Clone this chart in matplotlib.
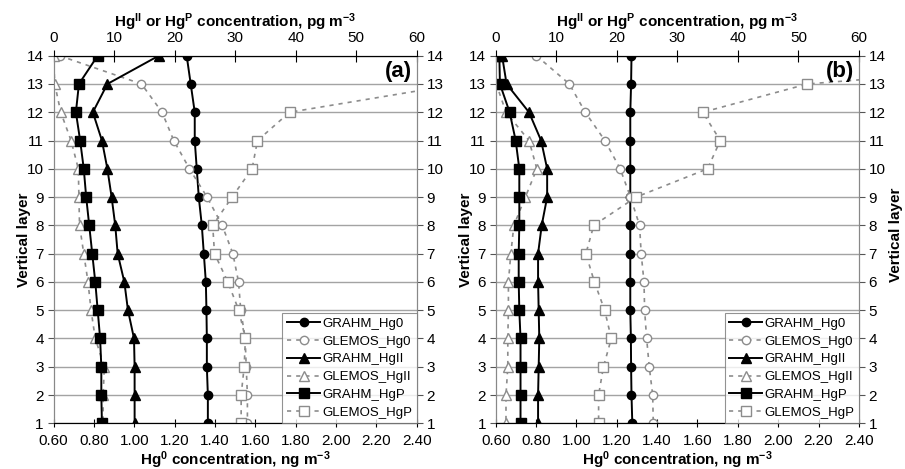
import matplotlib.pyplot as plt
import numpy as np

plt.rcParams['font.family'] = ['Liberation Sans', 'DejaVu Sans']
plt.rcParams['mathtext.fontset'] = 'custom'
plt.rcParams['mathtext.rm'] = 'Liberation Sans:bold'
plt.rcParams['mathtext.default'] = 'rm'

# Camadas verticais
layers = np.arange(14, 0, -1)

# Painel (a) - Hg0 em ng m-3 (eixo inferior)
a_grahm_hg0 = [1.26, 1.28, 1.30, 1.30, 1.31, 1.32, 1.335, 1.345, 1.355, 1.358, 1.36, 1.36, 1.365, 1.365]
a_glemos_hg0 = [0.63, 1.036, 1.138, 1.196, 1.274, 1.361, 1.436, 1.489, 1.517, 1.528, 1.55, 1.555, 1.561, 1.561]
# HgII e HgP em pg m-3 (eixo superior)
a_grahm_hg2 = [17.4, 8.9, 6.5, 8.0, 8.9, 9.6, 10.2, 10.6, 11.7, 12.3, 13.3, 13.4, 13.4, 13.4]
a_glemos_hg2 = [0.0, 0.2, 1.2, 2.9, 4.1, 4.2, 4.3, 5.0, 5.7, 6.2, 6.9, 8.4, 8.2, 8.2]
a_grahm_hgp = [7.3, 4.2, 3.7, 4.4, 5.0, 5.4, 5.9, 6.4, 6.9, 7.3, 7.7, 7.9, 7.9, 8.0]
a_glemos_hgp = [75.0, 67.0, 39.0, 33.7, 32.8, 29.5, 26.3, 26.6, 28.8, 30.6, 31.7, 31.5, 31.0, 31.0]

# Painel (b)
b_grahm_hg0 = [1.273, 1.271, 1.267, 1.267, 1.267, 1.267, 1.267, 1.267, 1.267, 1.267, 1.27, 1.271, 1.273, 1.277]
b_glemos_hg0 = [0.802, 0.965, 1.044, 1.141, 1.217, 1.268, 1.313, 1.321, 1.335, 1.338, 1.348, 1.361, 1.378, 1.381]
b_grahm_hg2 = [1.05, 1.8, 5.5, 7.5, 8.5, 8.5, 7.6, 7.0, 7.0, 7.1, 7.2, 7.1, 7.0, 7.0]
b_glemos_hg2 = [0.0, 0.1, 1.7, 5.5, 6.8, 4.9, 3.0, 2.5, 2.1, 2.1, 2.0, 2.0, 1.7, 1.7]
b_grahm_hgp = [0.6, 0.7, 2.3, 3.3, 3.9, 3.9, 3.9, 3.8, 3.8, 3.9, 4.1, 4.1, 4.1, 4.1]
b_glemos_hgp = [110.0, 51.5, 34.2, 37.1, 35.0, 23.2, 16.2, 14.9, 16.3, 18.0, 19.1, 17.8, 17.0, 17.0]

panels = [
    ('(a)', a_grahm_hg0, a_glemos_hg0, a_grahm_hg2, a_glemos_hg2, a_grahm_hgp, a_glemos_hgp),
    ('(b)', b_grahm_hg0, b_glemos_hg0, b_grahm_hg2, b_glemos_hg2, b_grahm_hgp, b_glemos_hgp),
]

bottom_ticks = np.arange(0.6, 2.41, 0.2)
top_ticks = np.arange(0, 61, 10)

GRAY = '#8c8c8c'
solid = dict(color='black', lw=1.4)
dashed = dict(color=GRAY, lw=1.2, ls=(0, (2.5, 3)), markerfacecolor='white', markeredgecolor=GRAY)

fig = plt.figure(figsize=(9.05, 4.69), dpi=100)
lefts = [53.5 / 905, 495.7 / 905]

for left, (tag, g0, l0, g2, l2, gp, lp) in zip(lefts, panels):
    ax = fig.add_axes([left, 1 - 423.3 / 469, 363.2 / 905, 367.6 / 469])
    ax2 = ax.twiny()

    h1, = ax.plot(g0, layers, marker='o', ms=6, label='GRAHM_Hg0', **solid)
    h2, = ax.plot(l0, layers, marker='o', ms=6, label='GLEMOS_Hg0', **dashed)
    h3, = ax2.plot(g2, layers, marker='^', ms=6.5, label='GRAHM_HgII', **solid)
    h4, = ax2.plot(l2, layers, marker='^', ms=6.5, label='GLEMOS_HgII', **dashed)
    h5, = ax2.plot(gp, layers, marker='s', ms=6.5, label='GRAHM_HgP', **solid)
    h6, = ax2.plot(lp, layers, marker='s', ms=7, label='GLEMOS_HgP', **dashed)

    ax.set_xlim(0.6, 2.4)
    ax2.set_xlim(0, 60)
    ax.set_ylim(1, 14)
    ax.set_yticks(range(1, 15))
    ax.set_xticks(bottom_ticks)
    ax.set_xticklabels(['%.2f' % t for t in bottom_ticks])
    ax2.set_xticks(top_ticks)

    ax.yaxis.grid(True, color='#a3a3a3', lw=1.0)
    ax.set_axisbelow(True)
    ax.tick_params(axis='y', which='both', left=True, right=True, labelright=True,
                   direction='out', length=4, labelsize=11, pad=3, color='#555555')
    ax.tick_params(axis='x', direction='inout', length=6, labelsize=11, pad=5)
    ax2.tick_params(axis='x', direction='inout', length=9, labelsize=11, pad=3)

    for s in ['left', 'right']:
        ax.spines[s].set_color('#888888')
        ax2.spines[s].set_color('#888888')
    ax.spines['bottom'].set_color('#333333')
    ax2.spines['top'].set_color('black')

    ax.set_xlabel(r'Hg$^{0}$ concentration, ng m$^{-3}$', fontweight='bold', fontsize=11, labelpad=0.5)
    ax2.set_xlabel(r'Hg$^{II}$ or Hg$^{P}$ concentration, pg m$^{-3}$', fontweight='bold', fontsize=11, labelpad=3)
    ax.set_ylabel('Vertical layer', fontweight='bold', fontsize=11, labelpad=-3)

    ax2.text(0.988, 0.985, tag, transform=ax2.transAxes, ha='right', va='top',
             fontsize=16, fontweight='bold')

    leg = ax2.legend(handles=[h1, h2, h3, h4, h5, h6], loc='lower right', fontsize=9.5,
                     frameon=True, fancybox=False, borderpad=0.35, labelspacing=0.42,
                     handlelength=2.5, handletextpad=0.15, borderaxespad=0.0)
    leg.get_frame().set_edgecolor('#777777')
    leg.get_frame().set_linewidth(0.8)

fig.text(896 / 905, 0.5, 'Vertical layer', rotation=90, ha='center', va='center',
         fontweight='bold', fontsize=11)

fig.savefig('out.png', dpi=100)
